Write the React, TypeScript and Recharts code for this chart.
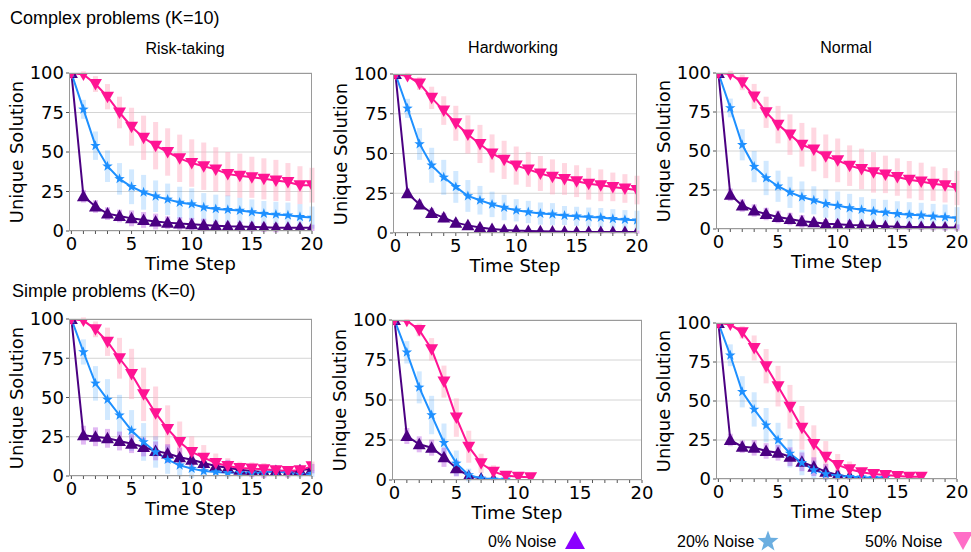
import React from "react";
import { CartesianGrid, ErrorBar, Line, LineChart, XAxis, YAxis } from "recharts";

const STEPS = [0, 1, 2, 3, 4, 5, 6, 7, 8, 9, 10, 11, 12, 13, 14, 15, 16, 17, 18, 19, 20];
const Y_TICKS = [0, 25, 50, 75, 100];

// complex problems (K=10)
const riskC0 = [100, 22, 15.5, 11, 9.5, 8, 7, 6, 5.3, 4.7, 4.3, 3.8, 3.4, 3, 2.8, 2.6, 2.3, 2.1, 2, 2, 2];
const riskC20 = [100, 77, 54, 41, 33, 28, 24.5, 22, 20, 18, 17, 15, 14, 13.5, 13, 12, 11, 10.5, 10, 9, 8.5];
const riskC50 = [100, 99, 93, 85, 75, 66, 59, 54, 50, 46, 43, 41, 39, 36, 35, 34, 33, 32, 31, 29, 29];
const riskC0Sp = [0, 4, 4, 4, 4, 5, 5, 5, 4, 4, 4, 4, 3, 3, 3, 3, 3, 3, 2, 2, 2];
const riskC20Sp = [0, 6, 9, 10, 10, 11, 11, 10, 10, 10, 10, 9, 9, 9, 8, 8, 8, 8, 8, 8, 7];
const riskC50Sp = [0, 2, 5, 8, 10, 12, 14, 15, 15, 15, 15, 15, 14, 14, 14, 13, 13, 13, 12, 12, 11];

const hardC0 = [100, 25, 18, 12.6, 9.7, 6.5, 4.8, 3.4, 2.5, 1.9, 1.5, 1.3, 1.1, 0.9, 0.8, 0.7, 0.7, 0.6, 0.6, 0.6, 0.6];
const hardC20 = [100, 78.4, 56, 42.6, 35, 29, 23.3, 20.6, 18, 16, 14.3, 13.2, 12.2, 11.8, 11, 10.5, 10, 9.7, 9, 8.4, 8];
const hardC50 = [100, 98.7, 94, 85, 77, 69, 62, 56, 50, 46, 42.4, 40, 37.4, 35.3, 34, 32.6, 31, 30, 29, 28, 27];
const hardC0Sp = [0, 3, 3, 3, 3, 2, 2, 2, 1.5, 1.5, 1.5, 1, 1, 1, 1, 1, 1, 1, 1, 1, 1];
const hardC20Sp = [0, 6, 10, 11, 11, 10, 10, 9, 8, 8, 7, 7, 7, 7, 6, 6, 6, 6, 6, 6, 6];
const hardC50Sp = [0, 2, 4, 7, 9, 11, 12, 12, 12, 12, 12, 11, 11, 11, 10, 10, 10, 10, 9, 9, 9];

const normC0 = [100, 22, 15, 11.8, 9.6, 7.7, 6.4, 4.9, 4.3, 3.4, 3, 2.6, 2.4, 2.1, 1.7, 1.5, 1.3, 1.3, 1.1, 0.9, 0.9];
const normC20 = [100, 77.6, 54, 40, 32.7, 27.4, 23.5, 20.5, 18.4, 16.2, 15, 13.5, 12.4, 11.3, 10.7, 9.8, 9.2, 8.8, 8.1, 7.7, 7];
const normC50 = [100, 99.4, 94, 85, 74.8, 66.9, 60.5, 54, 51, 46.6, 44, 40.6, 38.5, 36.3, 35, 33.3, 31.6, 30.5, 29, 28, 26.3];
const normC0Sp = [0, 4, 4, 4, 4, 4, 4, 4, 3, 3, 3, 3, 3, 2, 2, 2, 2, 2, 2, 2, 2];
const normC20Sp = [0, 6, 10, 10, 11, 10, 10, 10, 9, 9, 9, 9, 8, 8, 8, 8, 8, 8, 8, 8, 7];
const normC50Sp = [0, 2, 5, 8, 10, 12, 13, 14, 14, 14, 14, 13, 13, 13, 12, 12, 12, 12, 11, 11, 11];

// simple problems (K=0)
const riskS0 = [100, 26, 25, 24, 22.3, 20.6, 18.5, 16, 14.3, 12, 10.4, 8.3, 6.4, 5.3, 4, 3.2, 2.6, 3.2, 1.9, 3.6, 4.7];
const riskS20 = [100, 79, 59, 48.7, 38.7, 29, 21.7, 15.3, 10.4, 6.8, 4.7, 3.2, 2.6, 2.1, 2.1, 1.9, 2.1, 3.2, 1.9, 1, 1.5];
const riskS50 = [100, 99, 93.4, 85.5, 75, 65, 52, 40, 30, 21.7, 15.3, 11.7, 8.3, 6.4, 5.1, 4.7, 4.3, 3.6, 3.2, 3.6, 6.2];
const riskS0Sp = [0, 6, 6, 6, 6, 6, 6, 6, 6, 6, 6, 5, 5, 5, 4, 4, 4, 3, 3, 3, 3];
const riskS20Sp = [0, 8, 11, 13, 13, 13, 12, 10, 9, 7, 6, 4, 3, 3, 3, 2, 2, 2, 2, 2, 2];
const riskS50Sp = [0, 2, 5, 9, 13, 16, 17, 17, 15, 13, 10, 8, 6, 5, 4, 4, 4, 3, 3, 3, 3];

const hardS0 = [100, 27.5, 22.3, 20.2, 14.2, 7.3, 2.5, 1, 0.4];
const hardS20 = [100, 79.8, 57.9, 40.6, 23.3, 10.4, 3.1, 1, 0.4, 0.4];
const hardS50 = [100, 99.6, 93.8, 81.7, 61.5, 39, 20.8, 10.4, 5.2, 2.7, 2.1, 1.7];
const hardS0Sp = [0, 5, 5, 5, 6, 5, 2, 1, 0.5];
const hardS20Sp = [0, 7, 10, 12, 12, 8, 4, 1, 0.5, 0.5];
const hardS50Sp = [0, 1, 4, 7, 10, 12, 10, 6, 4, 2, 1, 1];

const normS0 = [100, 25, 20.7, 20, 18, 16.8, 14.3, 11, 7.9, 4.7, 2.6, 1.5, 0.9, 0.4, 0.4];
const normS20 = [100, 79.3, 55.9, 44.6, 34.5, 25, 16.4, 10.4, 5.8, 3.2, 1.9, 1.5, 1.1, 0.9, 0.9];
const normS50 = [100, 99, 94, 84, 72.3, 59.5, 46.3, 32.8, 22.4, 14.3, 9, 6.2, 4.3, 3.2, 2.6, 1.9, 1.5, 1.5];
const normS0Sp = [0, 4, 4, 5, 5, 5, 6, 6, 6, 5, 3, 2, 1, 0.5, 0.5];
const normS20Sp = [0, 7, 10, 11, 11, 11, 9, 8, 6, 4, 2, 1, 1, 1, 1];
const normS50Sp = [0, 1, 4, 8, 11, 13, 14, 14, 12, 10, 7, 5, 3, 2, 2, 1, 1, 1];

const PURPLE = "#4b0082";
const BLUE = "#1e90ff";
const PINK = "#ff1493";

const AXIS_FONT = "'DejaVu Sans', sans-serif";
const TEXT_FONT = "'Liberation Sans', Arial, sans-serif";

function buildRows(a0: number[], a20: number[], a50: number[], s0: number[], s20: number[], s50: number[]) {
  return STEPS.map((step, i) => ({
    step,
    p0: a0[i],
    p20: a20[i],
    p50: a50[i],
    e0: s0[i],
    e20: s20[i],
    e50: s50[i],
  }));
}

const PANELS = [
  { id: "rc", x: 69, y: 73, w: 243, h: 158, rows: buildRows(riskC0, riskC20, riskC50, riskC0Sp, riskC20Sp, riskC50Sp) },
  { id: "hc", x: 393, y: 74, w: 244, h: 159, rows: buildRows(hardC0, hardC20, hardC50, hardC0Sp, hardC20Sp, hardC50Sp) },
  { id: "nc", x: 716, y: 73, w: 241, h: 156, rows: buildRows(normC0, normC20, normC50, normC0Sp, normC20Sp, normC50Sp) },
  { id: "rs", x: 69, y: 319, w: 243, h: 157, rows: buildRows(riskS0, riskS20, riskS50, riskS0Sp, riskS20Sp, riskS50Sp) },
  { id: "hs", x: 392, y: 320, w: 250, h: 160, rows: buildRows(hardS0, hardS20, hardS50, hardS0Sp, hardS20Sp, hardS50Sp) },
  { id: "ns", x: 716, y: 323, w: 241, h: 156, rows: buildRows(normS0, normS20, normS50, normS0Sp, normS20Sp, normS50Sp) },
];

function starPoints(cx: number, cy: number, r1: number, r2: number) {
  const pts: string[] = [];
  for (let k = 0; k < 10; k++) {
    const r = k % 2 === 0 ? r1 : r2;
    const a = -Math.PI / 2 + (k * Math.PI) / 5;
    pts.push(`${cx + r * Math.cos(a)},${cy + r * Math.sin(a)}`);
  }
  return pts.join(" ");
}

const marker = (kind: "up" | "down" | "star", color: string) => (props: any) => {
  const { cx, cy, index } = props;
  if (cx == null || cy == null || Number.isNaN(cy)) return <g key={`m${index}`} />;
  if (kind === "up") {
    return <polygon key={`m${index}`} points={`${cx},${cy - 6.5} ${cx - 6.5},${cy + 5} ${cx + 6.5},${cy + 5}`} fill={color} />;
  }
  if (kind === "down") {
    return <polygon key={`m${index}`} points={`${cx - 6.5},${cy - 5} ${cx + 6.5},${cy - 5} ${cx},${cy + 6.5}`} fill={color} />;
  }
  return <polygon key={`m${index}`} points={starPoints(cx, cy, 5.5, 2.2)} fill={color} />;
};

const ML = 70;
const MT = 12;
const MR = 16;
const MB = 30;

function Label({ x, y, size, font, children, rotate }: any) {
  return (
    <div
      style={{
        position: "absolute",
        left: x,
        top: y,
        transform: `translate(-50%, -50%)${rotate ? " rotate(-90deg)" : ""}`,
        whiteSpace: "nowrap",
        fontSize: size,
        fontFamily: font,
        lineHeight: 1,
        color: "#000",
      }}
    >
      {children}
    </div>
  );
}

function Panel({ p }: { p: (typeof PANELS)[number] }) {
  const tick = { fill: "#000", fontSize: 18, fontFamily: AXIS_FONT };
  return (
    <>
      <div style={{ position: "absolute", left: p.x - ML, top: p.y - MT }}>
        <LineChart width={p.w + ML + MR} height={p.h + MT + MB} data={p.rows} margin={{ top: MT, right: MR, left: 0, bottom: 0 }}>
          <CartesianGrid vertical={false} stroke="#d4d4d4" />
          <XAxis
            type="number"
            dataKey="step"
            domain={[-0.2, 20]}
            ticks={STEPS}
            interval={0}
            tickFormatter={(v: number) => (v % 5 === 0 ? String(v) : "")}
            height={MB}
            tickSize={3}
            tickMargin={3}
            axisLine={false}
            tickLine={{ stroke: "#555" }}
            tick={tick}
            allowDataOverflow
          />
          <YAxis
            type="number"
            domain={[0, 100]}
            ticks={Y_TICKS}
            width={ML}
            tickSize={3}
            tickMargin={2}
            axisLine={false}
            tickLine={{ stroke: "#555" }}
            tick={tick}
            allowDataOverflow
          />
          <Line dataKey="p50" stroke="none" dot={false} activeDot={false} isAnimationActive={false}>
            <ErrorBar dataKey="e50" width={0} stroke="rgba(255,175,195,0.5)" strokeWidth={5} isAnimationActive={false} />
          </Line>
          <Line dataKey="p20" stroke="none" dot={false} activeDot={false} isAnimationActive={false}>
            <ErrorBar dataKey="e20" width={0} stroke="rgba(30,144,255,0.2)" strokeWidth={5} isAnimationActive={false} />
          </Line>
          <Line dataKey="p0" stroke="none" dot={false} activeDot={false} isAnimationActive={false}>
            <ErrorBar dataKey="e0" width={0} stroke="rgba(148,0,211,0.28)" strokeWidth={5} isAnimationActive={false} />
          </Line>
          <Line dataKey="p0" stroke={PURPLE} strokeWidth={2} dot={marker("up", PURPLE)} activeDot={false} isAnimationActive={false} />
          <Line dataKey="p20" stroke={BLUE} strokeWidth={2} dot={marker("star", BLUE)} activeDot={false} isAnimationActive={false} />
          <Line dataKey="p50" stroke={PINK} strokeWidth={2} dot={marker("down", PINK)} activeDot={false} isAnimationActive={false} />
        </LineChart>
      </div>
      <div
        style={{
          position: "absolute",
          left: p.x,
          top: p.y,
          width: p.w,
          height: p.h,
          boxSizing: "border-box",
          border: "1px solid #9a9a9a",
          pointerEvents: "none",
        }}
      />
      <Label x={p.x - 52} y={p.y + p.h / 2} size={18} font={AXIS_FONT} rotate>
        Unique Solution
      </Label>
      <Label x={p.x + p.w / 2} y={p.y + p.h + 33} size={18} font={AXIS_FONT}>
        Time Step
      </Label>
    </>
  );
}

export default function App() {
  return (
    <div style={{ position: "absolute", left: 0, top: 0, width: 971, height: 552, background: "#fff", overflow: "hidden" }}>
      <div style={{ position: "absolute", left: 10, top: 9, fontSize: 18, fontFamily: TEXT_FONT, lineHeight: 1.1 }}>
        Complex problems (K=10)
      </div>
      <div style={{ position: "absolute", left: 12, top: 282, fontSize: 18, fontFamily: TEXT_FONT, lineHeight: 1.1 }}>
        Simple problems (K=0)
      </div>
      <Label x={185} y={49} size={16} font={TEXT_FONT}>Risk-taking</Label>
      <Label x={513} y={48} size={16} font={TEXT_FONT}>Hardworking</Label>
      <Label x={846} y={48} size={16} font={TEXT_FONT}>Normal</Label>
      {PANELS.map((p) => (
        <Panel key={p.id} p={p} />
      ))}
      <div style={{ position: "absolute", left: 488, top: 533, fontSize: 16, fontFamily: TEXT_FONT, lineHeight: 1.1 }}>0% Noise</div>
      <svg style={{ position: "absolute", left: 565, top: 531 }} width={20} height={18}>
        <polygon points="10,0 20,18 0,18" fill="#8b00ff" />
      </svg>
      <div style={{ position: "absolute", left: 677, top: 533, fontSize: 16, fontFamily: TEXT_FONT, lineHeight: 1.1 }}>20% Noise</div>
      <svg style={{ position: "absolute", left: 757, top: 530 }} width={22} height={22}>
        <polygon points={starPoints(11, 11.5, 11, 4.5)} fill="#6baee0" />
      </svg>
      <div style={{ position: "absolute", left: 865, top: 533, fontSize: 16, fontFamily: TEXT_FONT, lineHeight: 1.1 }}>50% Noise</div>
      <svg style={{ position: "absolute", left: 953, top: 532 }} width={20} height={18}>
        <polygon points="0,0 20,0 10,18" fill="#ff6ec7" />
      </svg>
    </div>
  );
}
